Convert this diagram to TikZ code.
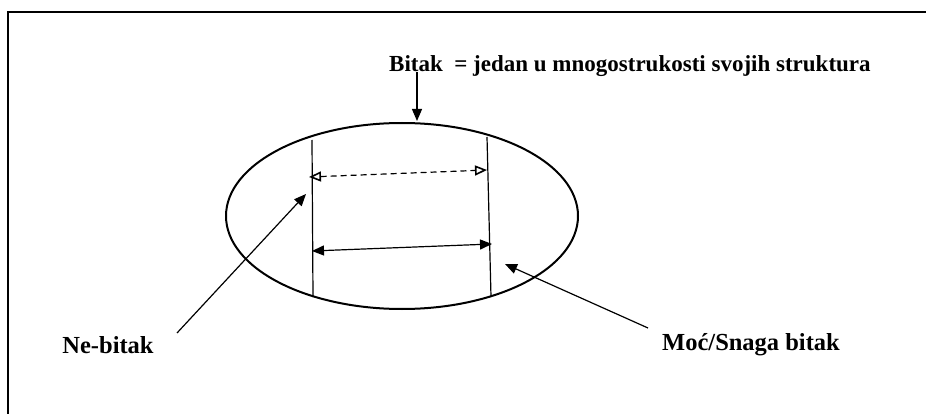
\documentclass[tikz,border=0pt]{standalone}
\usepackage{fontspec}
\setmainfont{Liberation Serif}
\usetikzlibrary{arrows.meta, shapes.geometric}

\begin{document}
\begin{tikzpicture}[
  x=1pt, y=-1pt,
  lbl/.style={font=\bfseries\fontsize{24.5}{28}\selectfont, inner sep=0pt},
  head/.style={font=\bfseries\fontsize{23}{26}\selectfont, inner sep=0pt},
  oval/.style={draw, ellipse, line width=2pt, inner sep=0pt, minimum width=352pt, minimum height=186pt},
  arr/.style={-{Triangle[length=12pt, width=10pt]}, line width=1.2pt},
  darr/.style={{Triangle[length=12pt, width=10pt]}-{Triangle[length=12pt, width=10pt]}, line width=1.2pt},
  oarr/.style={{Triangle[open, length=12pt, width=10pt, line width=1.6pt]}-{Triangle[open, length=12pt, width=10pt, line width=1.6pt]}, line width=1.2pt, dash pattern=on 6pt off 4pt}
]
\useasboundingbox (0,0) rectangle (926,414);
\draw[line width=2pt] (8,414) -- (8,12) -- (926,12);

\node[oval] (bitak) at (402,216) {};
\node[head, anchor=west] (title) at (389,66) {Bitak \ = jedan u mnogostrukosti svojih struktura};
\node[lbl] (nebitak) at (108,345) {Ne-bitak};
\node[lbl] (moc) at (751,345) {Moć/Snaga bitak};

% boundaries inside the oval
\coordinate (l1) at (312,140);
\coordinate (l2) at (313,297);
\coordinate (r1) at (487,137);
\coordinate (r2) at (491,297);
\draw[line width=1.2pt] (l1) -- (l2);
\draw[line width=1.2pt] (r1) -- (r2);

\coordinate (d1) at (309,177);
\coordinate (d2) at (487,170);
\coordinate (s1) at (312,251);
\coordinate (s2) at (492,244);
\draw[oarr] (d1) -- (d2);
\draw[darr] (s1) -- (s2);

% pointers from the labels
\coordinate (bt) at (417,72);
\coordinate (bh) at (417,121);
\coordinate (nt) at (177,333);
\coordinate (nh) at (306,194);
\coordinate (mt) at (648,328);
\coordinate (mh) at (505,264);
\draw[arr] (bt) -- (bh);
\draw[arr] (nt) -- (nh);
\draw[arr] (mt) -- (mh);
\end{tikzpicture}
\end{document}
